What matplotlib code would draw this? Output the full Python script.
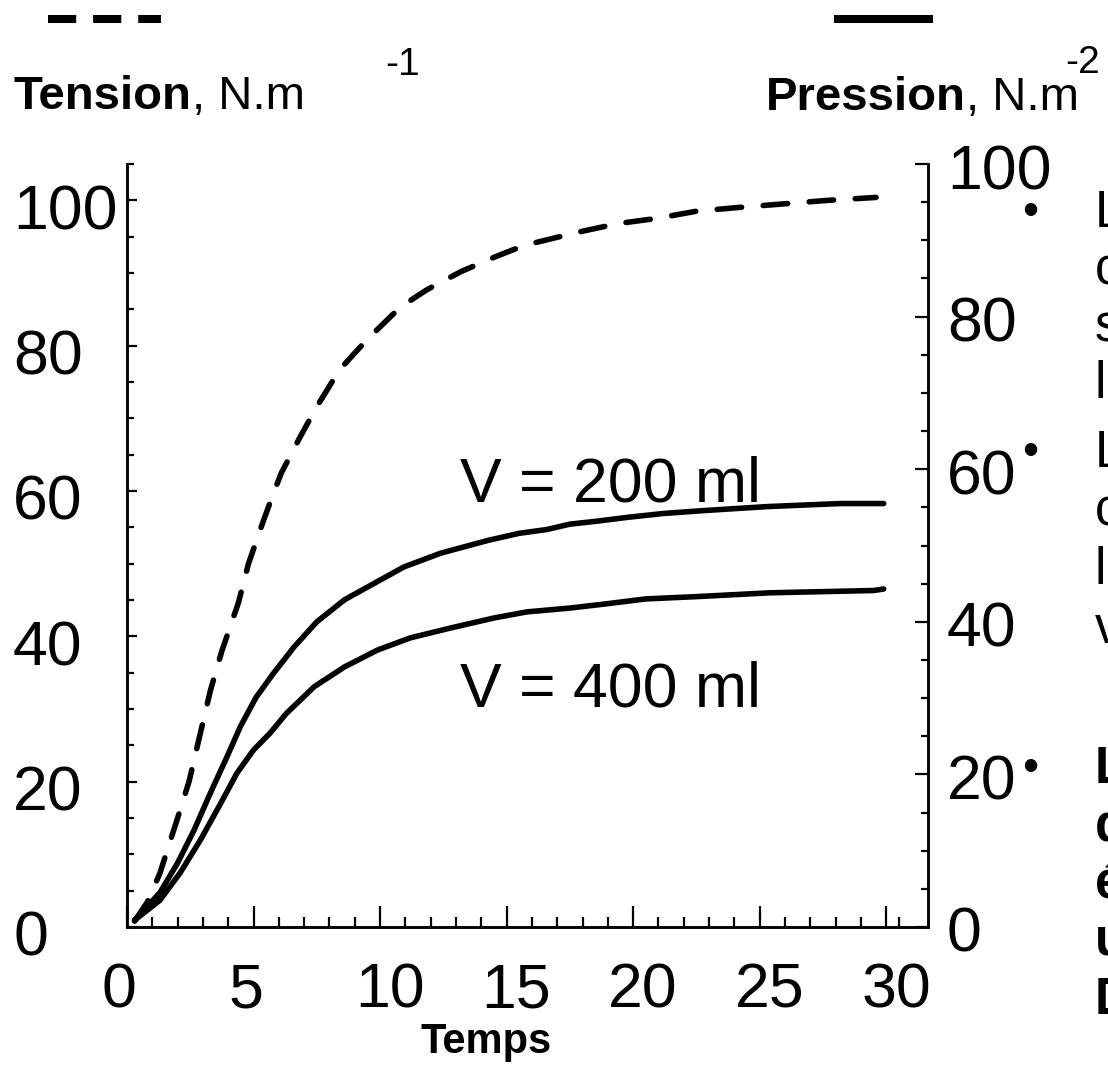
import matplotlib
matplotlib.use("Agg")
import matplotlib.pyplot as plt
from matplotlib.lines import Line2D
from matplotlib.ticker import FixedLocator
from matplotlib.transforms import ScaledTranslation

plt.rcParams['font.family'] = ['Liberation Sans', 'DejaVu Sans']

# --- data ---
# tension (dashed, left axis, N.m-1)
t_tension = [0.3, 0.8, 1.3, 2.0, 2.45, 2.9, 3.3, 3.75, 4.4, 4.8, 5.4, 5.8, 6.1, 6.85,
             7.5, 8.4, 9.5, 10.8, 11.85, 13.2, 14.6, 15.7, 17.8, 19.4, 20.9, 22.5,
             24.1, 25.9, 27.7, 29.6]
tension = [0.8, 3.4, 7.4, 15.0, 20.0, 26.7, 32.6, 38.0, 44.6, 50.0, 56.0, 59.8, 62.5,
           67.5, 71.6, 76.7, 80.9, 85.3, 87.7, 90.2, 92.3, 93.8, 95.6, 96.8, 97.5,
           98.5, 99.0, 99.5, 100.0, 100.4]

# pression (solid, right axis, N.m-2)
t_p200 = [0.3, 1.3, 2.0, 2.65, 3.3, 3.95, 4.47, 5.1, 5.8, 6.6, 7.5, 8.6, 9.8, 10.95,
          12.4, 14.3, 15.5, 16.6, 17.5, 18.6, 19.8, 21.2, 22.9, 25.3, 28.2, 29.9]
p200 = [0.9, 4.5, 8.4, 12.7, 17.6, 22.3, 26.2, 30.1, 33.3, 36.7, 40.0, 42.9, 45.1,
        47.2, 49.0, 50.7, 51.6, 52.1, 52.8, 53.2, 53.7, 54.2, 54.6, 55.1, 55.5, 55.5]

t_p400 = [0.3, 1.3, 2.1, 2.9, 3.7, 4.35, 5.0, 5.65, 6.3, 7.4, 8.6, 9.9, 11.2, 12.8,
          14.5, 15.8, 17.5, 18.8, 20.5, 22.5, 25.4, 29.5, 29.9]
p400 = [0.9, 3.5, 7.1, 11.4, 16.2, 20.2, 23.2, 25.4, 28.0, 31.5, 34.1, 36.3, 37.9,
        39.2, 40.5, 41.3, 41.8, 42.3, 43.0, 43.3, 43.8, 44.1, 44.3]

x_major = [0, 5, 10, 15, 20, 25, 30]
x_minor = [1, 2, 3, 4, 6, 7, 8, 9, 11, 12, 13, 14, 16, 17, 18, 19, 21, 22, 23, 24,
           26, 27, 28, 29, 30.5]
y_major = [0, 20, 40, 60, 80, 100]
y_minor_left = [5, 10, 15, 25, 30, 35, 45, 50, 55, 65, 70, 75, 85, 90, 95, 105]
y_minor_right = [5, 10, 15, 25, 30, 35, 45, 50, 55, 65, 70, 75, 85, 90, 95]

bullets_1 = ["La tension de la paroi", "croît avec le remplissage", "sous l'effet de",
             "la distension"]
bullets_2 = ["La pression augmente", "conformément à", "la loi de Laplace", "vésicale"]
bullets_3 = ["La pression reste basse", "dans une vessie distendue",
             "état de compliance", "une grande capacité", "Donc une bonne continence"]

W, H = 1108, 1066
fig = plt.figure(figsize=(W / 100, H / 100), dpi=100)


def fx(px):
    return px / W


def fy(py):
    return 1 - py / H


ax = fig.add_axes([fx(127), fy(927), fx(928) - fx(127), fy(164) - fy(927)])
ax2 = ax.twinx()

ax.plot(t_tension, tension, color='black', lw=4.0, dashes=(4.4, 3.9),
        dash_capstyle='round', solid_capstyle='round')
ax2.plot(t_p200, p200, color='black', lw=4.0, solid_capstyle='round')
ax2.plot(t_p400, p400, color='black', lw=4.0, solid_capstyle='round')

ax.set_xlim(0, 31.65)
ax.set_ylim(0, 105)
ax2.set_ylim(0, 100)

for a in (ax, ax2):
    a.spines['top'].set_visible(False)
    for s in a.spines.values():
        s.set_linewidth(1.8)

ax.xaxis.set_major_locator(FixedLocator(x_major))
ax.xaxis.set_minor_locator(FixedLocator(x_minor))
ax.yaxis.set_major_locator(FixedLocator(y_major))
ax.yaxis.set_minor_locator(FixedLocator(y_minor_left))
ax2.yaxis.set_major_locator(FixedLocator(y_major))
ax2.yaxis.set_minor_locator(FixedLocator(y_minor_right))

ax.tick_params(axis='x', which='major', direction='in', length=15, width=1.6,
               labelsize=45, pad=25)
ax.tick_params(axis='x', which='minor', direction='in', length=7.5, width=1.6)
ax.tick_params(axis='y', which='major', direction='in', length=7.5, width=1.6,
               labelsize=45, pad=82)
ax.tick_params(axis='y', which='minor', direction='in', length=4.8, width=1.6)
ax2.tick_params(axis='y', which='major', direction='in', length=9.5, width=1.6,
                labelsize=45, pad=13.5)
ax2.tick_params(axis='y', which='minor', direction='in', length=4.8, width=1.6)

ax.set_xticklabels([str(v) for v in x_major])
ax.set_yticklabels([str(v) for v in y_major])
ax2.set_yticklabels([str(v) for v in y_major])

shift_x = ScaledTranslation(-0.25, 0, fig.dpi_scale_trans)
for lab in ax.get_xticklabels():
    lab.set_ha('left')
    lab.set_transform(lab.get_transform() + shift_x)
shift_l = ScaledTranslation(0, -0.06, fig.dpi_scale_trans)
for lab in ax.get_yticklabels():
    lab.set_ha('left')
    lab.set_transform(lab.get_transform() + shift_l)
shift_r = ScaledTranslation(0, -0.02, fig.dpi_scale_trans)
for lab in ax2.get_yticklabels():
    lab.set_transform(lab.get_transform() + shift_r)

ax.text(13.15, 58.5, 'V = 200 ml', fontsize=45, ha='left', va='baseline')
ax.text(13.15, 30.4, 'V = 400 ml', fontsize=45, ha='left', va='baseline')

fig.text(fx(486), fy(1053), 'Temps', fontsize=30, fontweight='bold',
         ha='center', va='baseline')

# axis titles with legend samples
fig.add_artist(Line2D([fx(48), fx(161)], [fy(18.5), fy(18.5)], color='black',
                      lw=5.8, dashes=(3.5, 2.1), dash_capstyle='butt',
                      transform=fig.transFigure))
fig.add_artist(Line2D([fx(838), fx(929)], [fy(18.5), fy(18.5)], color='black',
                      lw=5.8, transform=fig.transFigure))

renderer = fig.canvas.get_renderer()


def bold_then_regular(x0, base, bold, regular, size):
    t = fig.text(fx(x0), fy(base), bold, fontsize=size, fontweight='bold',
                 ha='left', va='baseline')
    bb = t.get_window_extent(renderer)
    fig.text(bb.x1 / W, fy(base), regular, fontsize=size, ha='left', va='baseline')


bold_then_regular(14, 109, 'Tension', ', N.m', 34)
bold_then_regular(766, 110, 'Pression', ', N.m', 34)
fig.text(fx(385), fy(75), '-1', fontsize=28, ha='left', va='baseline')
fig.text(fx(1065), fy(73), '-2', fontsize=28, ha='left', va='baseline')

# cut-off bullet text on the right
for base0, step, lines, weight in [(227, 56.7, bullets_1, 'normal'),
                                    (467, 58.7, bullets_2, 'normal'),
                                    (783, 57.5, bullets_3, 'bold')]:
    fig.text(fx(1030), fy(base0 - 2.5), '\u2022', fontsize=33, ha='center',
             va='baseline')
    for i, line in enumerate(lines):
        fig.text(fx(1095), fy(base0 + i * step), line, fontsize=37,
                 fontweight=weight, ha='left', va='baseline')

fig.savefig('out.png', dpi=100)
